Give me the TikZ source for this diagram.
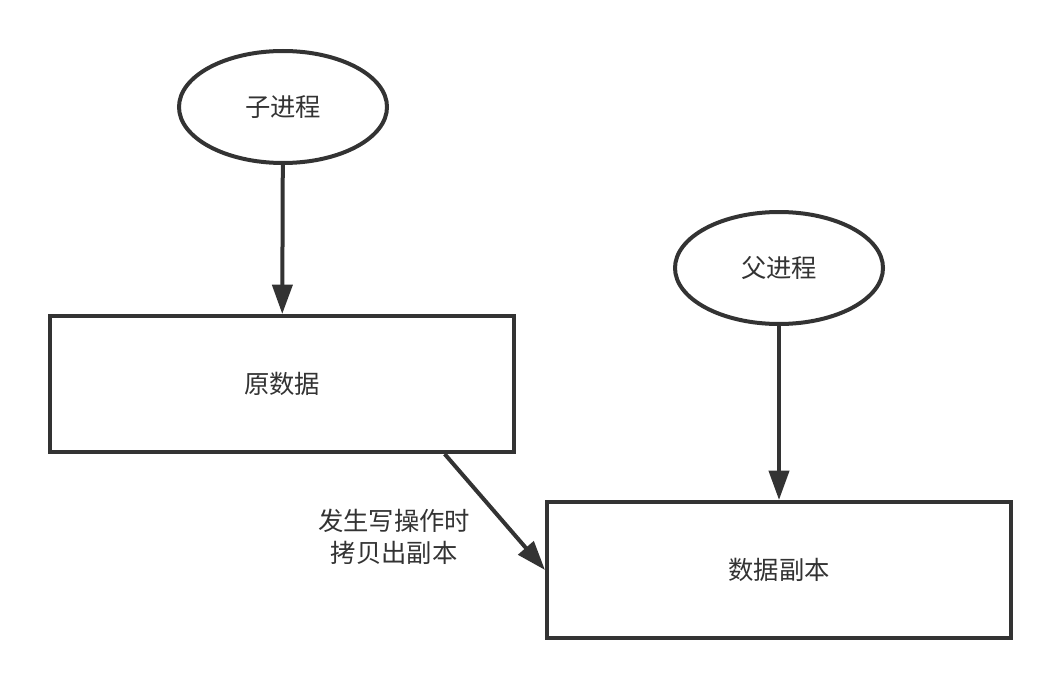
\documentclass[tikz,border=0pt]{standalone}
\usepackage{fontspec}
\newfontfamily\cjk{Noto Sans CJK SC}
\usetikzlibrary{shapes.geometric, arrows.meta}
\definecolor{ink}{HTML}{333333}

\begin{document}
\begin{tikzpicture}[x=0.75pt, y=-0.75pt, line width=3pt, draw=ink,
  font=\cjk\fontsize{19}{24}\selectfont, text=ink,
  proc/.style={ellipse, draw=ink, minimum width=156pt, minimum height=84pt, inner sep=0pt},
  datab/.style={rectangle, draw=ink, minimum width=348pt, minimum height=102pt, inner sep=0pt},
  link/.style={ink, -{Triangle[length=22pt, width=15pt]}}]
  \useasboundingbox (0, 0) rectangle (1062, 688);

  % 进程
  \node[proc] (child)  at (283, 107) {子进程};
  \node[proc] (parent) at (779, 268) {父进程};

  % 数据
  \node[datab] (orig) at (282, 384) {原数据};
  \node[datab] (copy) at (779, 570) {数据副本};

  % 箭头
  \draw[link] (child) -- (orig);
  \draw[link] (parent) -- (copy);
  \draw[link] ([xshift=122pt]orig.south) -- (copy.west);

  \node[align=center] (note) at (394, 537) {发生写操作时\\拷贝出副本};
\end{tikzpicture}
\end{document}
